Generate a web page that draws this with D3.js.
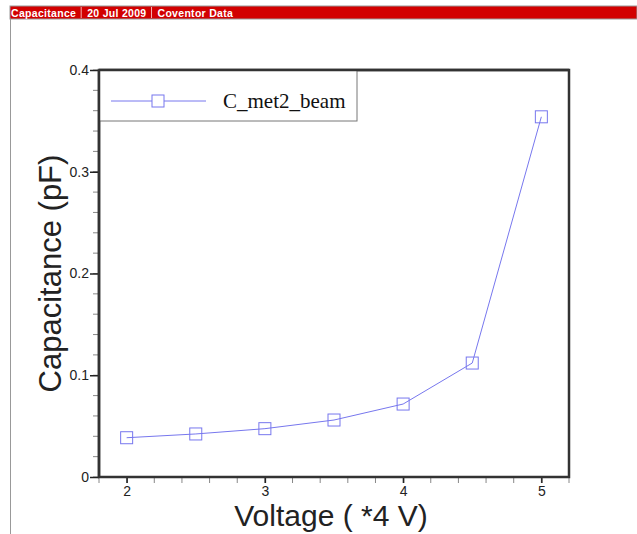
<!DOCTYPE html>
<html>
<head>
<meta charset="utf-8">
<script src="https://cdn.jsdelivr.net/npm/d3@7"></script>
<style>
  body { margin: 0; background: #fff; }
  svg { display: block; }
</style>
</head>
<body>
<div id="chart"></div>
<script>
// data
var voltage = [2, 2.5, 3, 3.5, 4, 4.5, 5];
var capacitance = [0.0386, 0.0423, 0.0475, 0.056, 0.0717, 0.112, 0.354];
var seriesName = "C_met2_beam";
var xTicks = [2, 3, 4, 5];
var yTicks = [0, 0.1, 0.2, 0.3, 0.4];
var headerParts = ["Capacitance", "20 Jul 2009", "Coventor Data"];

(function() {
var width = 637, height = 534;
var plotLeft = 99, plotRight = 569, plotTop = 70, plotBottom = 477;

var svg = d3.select("#chart").append("svg")
	.attr("width", width).attr("height", height);

// header bar
svg.append("rect").attr("x", 10).attr("y", 6).attr("width", width - 10)
	.attr("height", 13).attr("fill", "#d20000").attr("stroke", "#999").attr("stroke-width", 1);
var hx = 11;
headerParts.forEach(function(t, i) {
	var txt = svg.append("text").text(t).attr("x", hx).attr("y", 16.5)
		.attr("font-family", "Liberation Sans, Arial, sans-serif")
		.attr("font-size", "10.5px").attr("font-weight", "bold")
		.attr("letter-spacing", "0.3px").attr("fill", "#fff");
	var w = txt.node().getComputedTextLength();
	hx += w + 5;
	if (i < headerParts.length - 1) {
		svg.append("line").attr("x1", hx).attr("x2", hx).attr("y1", 7).attr("y2", 18)
			.attr("stroke", "#f2b0b0").attr("stroke-width", 1);
		hx += 6;
	}
});
// left frame line
svg.append("line").attr("x1", 10.5).attr("x2", 10.5).attr("y1", 19).attr("y2", height)
	.attr("stroke", "#999").attr("stroke-width", 1);

var x = d3.scaleLinear().domain([1.8, 5.2]).range([plotLeft, plotRight]);
var y = d3.scaleLinear().domain([0, 0.4]).range([plotBottom, plotTop]);

// minor ticks
var xMinor = d3.range(1.8, 5.2001, 0.2);
svg.append("g").selectAll("line").data(xMinor).enter().append("line")
	.attr("x1", function(d) { return x(d); }).attr("x2", function(d) { return x(d); })
	.attr("y1", plotBottom).attr("y2", plotBottom + 6)
	.attr("stroke", "#888").attr("stroke-width", 1);
var yMinor = d3.range(0, 0.4001, 0.02);
svg.append("g").selectAll("line").data(yMinor).enter().append("line")
	.attr("y1", function(d) { return y(d); }).attr("y2", function(d) { return y(d); })
	.attr("x1", plotLeft - 6).attr("x2", plotLeft)
	.attr("stroke", "#888").attr("stroke-width", 1);

// major axes
var xAxis = d3.axisBottom(x).tickValues(xTicks).tickSize(6).tickPadding(3)
	.tickFormat(d3.format("d"));
var gx = svg.append("g").attr("transform", "translate(0," + plotBottom + ")").call(xAxis);
gx.select(".domain").remove();
var yAxis = d3.axisLeft(y).tickValues(yTicks).tickSize(9).tickPadding(1)
	.tickFormat(function(d) { return d === 0 ? "0" : d3.format(".1f")(d); });
var gy = svg.append("g").attr("transform", "translate(" + plotLeft + ",0)").call(yAxis);
gy.select(".domain").remove();
[gx, gy].forEach(function(g) {
	g.selectAll("line").attr("stroke", "#222").attr("stroke-width", 1.5);
	g.selectAll("text").attr("font-family", "Liberation Sans, Arial, sans-serif")
		.attr("font-size", "14px").attr("fill", "#222");
});

// plot frame
svg.append("rect").attr("x", plotLeft).attr("y", plotTop).attr("width", plotRight - plotLeft)
	.attr("height", plotBottom - plotTop).attr("fill", "none")
	.attr("stroke", "#333").attr("stroke-width", 2.5);

// series
var pts = voltage.map(function(v, i) { return [v, capacitance[i]]; });
var color = "#7777ee";
svg.append("path").datum(pts)
	.attr("d", d3.line().x(function(d) { return x(d[0]); }).y(function(d) { return y(d[1]); }))
	.attr("fill", "none").attr("stroke", color).attr("stroke-width", 1);
var sq = 12;
svg.append("g").selectAll("rect").data(pts).enter().append("rect")
	.attr("x", function(d) { return x(d[0]) - sq / 2; })
	.attr("y", function(d) { return y(d[1]) - sq / 2; })
	.attr("width", sq).attr("height", sq)
	.attr("fill", "none").attr("stroke", color).attr("stroke-width", 1);

// legend
svg.append("rect").attr("x", plotLeft).attr("y", plotTop).attr("width", 258).attr("height", 51)
	.attr("fill", "#fff").attr("stroke", "#777").attr("stroke-width", 1);
svg.append("line").attr("x1", 111).attr("x2", 206).attr("y1", 101).attr("y2", 101)
	.attr("stroke", color).attr("stroke-width", 1);
svg.append("rect").attr("x", 158 - sq / 2).attr("y", 101 - sq / 2)
	.attr("width", sq).attr("height", sq)
	.attr("fill", "#fff").attr("stroke", color).attr("stroke-width", 1);
svg.append("text").text(seriesName).attr("x", 223).attr("y", 108)
	.attr("font-family", "Liberation Serif, Times New Roman, serif")
	.attr("font-size", "21px").attr("fill", "#111");
// redraw frame top and left edges over legend
svg.append("line").attr("x1", plotLeft).attr("x2", plotRight).attr("y1", plotTop).attr("y2", plotTop)
	.attr("stroke", "#333").attr("stroke-width", 2.5);
svg.append("line").attr("x1", plotLeft).attr("x2", plotLeft).attr("y1", plotTop).attr("y2", plotBottom)
	.attr("stroke", "#333").attr("stroke-width", 2.5);

// axis titles
svg.append("text").text("Voltage ( *4 V)").attr("x", (plotLeft + plotRight) / 2 - 3).attr("y", 526)
	.attr("text-anchor", "middle")
	.attr("font-family", "Liberation Sans, Arial, sans-serif")
	.attr("font-size", "30px").attr("fill", "#222");
svg.append("text").text("Capacitance (pF)")
	.attr("transform", "translate(61," + ((plotTop + plotBottom) / 2) + ") rotate(-90)")
	.attr("text-anchor", "middle")
	.attr("font-family", "Liberation Sans, Arial, sans-serif")
	.attr("font-size", "31px").attr("fill", "#222");
})();
</script>
</body>
</html>
